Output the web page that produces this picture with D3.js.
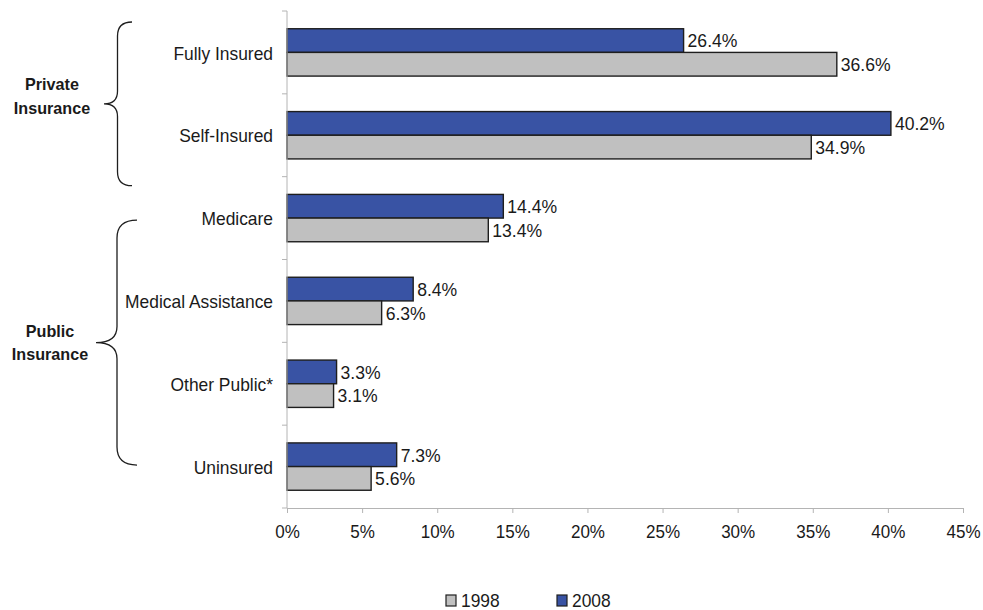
<!DOCTYPE html>
<html>
<head>
<meta charset="utf-8">
<script src="https://cdn.jsdelivr.net/npm/d3@7"></script>
<style>
  html, body { margin: 0; padding: 0; background: #fff; }
  svg { display: block; font-family: "Liberation Sans", Arial, sans-serif; }
</style>
</head>
<body>
<svg id="chart" width="983" height="610"></svg>
<script>
// Share of coverage by insurance type, 1998 vs 2008
const categories = ["Fully Insured", "Self-Insured", "Medicare", "Medical Assistance", "Other Public*", "Uninsured"];
const values1998 = [36.6, 34.9, 13.4, 6.3, 3.1, 5.6];
const values2008 = [26.4, 40.2, 14.4, 8.4, 3.3, 7.3];
const seriesNames = ["2008", "1998"];
const xTicks = [0, 5, 10, 15, 20, 25, 30, 35, 40, 45];
const groups = [
  { label: ["Private", "Insurance"], from: "Fully Insured", to: "Self-Insured" },
  { label: ["Public", "Insurance"], from: "Medicare", to: "Uninsured" }
];

const colors = { "1998": "#c0c0c0", "2008": "#3953a4" };
const textColor = "#1a1a1a";
const axisColor = "#b4b4b4";
const fontSize = 18.5;

const svg = d3.select("#chart");

const x = d3.scaleLinear().domain([0, 45]).range([287, 963]);
const y = d3.scaleBand().domain(categories).range([11, 508]).padding(0);
const ySub = d3.scaleBand().domain(seriesNames).range([0, y.bandwidth()]).paddingOuter(0.75).paddingInner(0);

// Slightly narrow the regular text
function squeeze(sel, k) {
  sel.each(function () {
    const w = this.getComputedTextLength();
    d3.select(this).attr("textLength", w * k).attr("lengthAdjust", "spacingAndGlyphs");
  });
}

const rows = categories.map((c, i) => ({ cat: c, "1998": values1998[i], "2008": values2008[i] }));

// Bars
const g = svg.append("g");
const row = g.selectAll("g.row").data(rows).join("g")
  .attr("class", "row")
  .attr("transform", d => `translate(0,${y(d.cat)})`);

row.selectAll("rect").data(d => seriesNames.map(s => ({ s, v: d[s] }))).join("rect")
  .attr("x", x(0))
  .attr("y", d => ySub(d.s))
  .attr("width", d => x(d.v) - x(0))
  .attr("height", ySub.bandwidth())
  .attr("fill", d => colors[d.s])
  .attr("stroke", "#1e1e1e")
  .attr("stroke-width", 1.4);

const valueLabels = row.selectAll("text.val").data(d => seriesNames.map(s => ({ s, v: d[s] }))).join("text")
  .attr("class", "val")
  .attr("x", d => x(d.v) + 4)
  .attr("y", d => ySub(d.s) + ySub.bandwidth() / 2 + 6.8)
  .attr("font-size", fontSize)
  .attr("fill", textColor)
  .text(d => d.v.toFixed(1) + "%");
squeeze(valueLabels, 0.95);

// Y axis (category boundaries)
const yAxisG = svg.append("g");
yAxisG.append("line")
  .attr("x1", x(0)).attr("x2", x(0))
  .attr("y1", y.range()[0]).attr("y2", y.range()[1])
  .attr("stroke", axisColor).attr("stroke-width", 1);
const bounds = categories.map(c => y(c)).concat([y.range()[1]]);
yAxisG.selectAll("line.tk").data(bounds).join("line")
  .attr("class", "tk")
  .attr("x1", x(0) - 5).attr("x2", x(0))
  .attr("y1", d => d).attr("y2", d => d)
  .attr("stroke", axisColor);

const catLabels = svg.append("g").selectAll("text").data(categories).join("text")
  .attr("x", 273)
  .attr("y", d => y(d) + y.bandwidth() / 2 + 7.2)
  .attr("text-anchor", "end")
  .attr("font-size", fontSize)
  .attr("fill", textColor)
  .text(d => d);
squeeze(catLabels, 0.94);

// X axis
const xAxis = d3.axisBottom(x).tickValues(xTicks).tickSize(5).tickPadding(12).tickFormat(d => d + "%");
const xg = svg.append("g").attr("transform", `translate(0,${y.range()[1]})`).call(xAxis);
xg.select(".domain").attr("stroke", axisColor);
xg.selectAll(".tick line").attr("stroke", axisColor);
xg.selectAll(".tick text")
  .attr("font-size", fontSize)
  .attr("font-family", "Liberation Sans, Arial, sans-serif")
  .attr("fill", textColor);
squeeze(xg.selectAll(".tick text"), 0.92);

// Group braces
const braceSpecs = [
  { top: y("Fully Insured") + 11, bot: y("Self-Insured") + y.bandwidth() + 9, xe: 132, xl: 117.5, xt: 104, r: 14, ly: -13.5, lx: 52 },
  { top: y("Medicare") + y.bandwidth() / 2 + 2, bot: y("Uninsured") + y.bandwidth() / 2 - 1.5, xe: 137, xl: 117, xt: 96, r: 18, ly: -6, lx: 50 }
];
groups.forEach((grp, i) => {
  const b = braceSpecs[i];
  const mid = (b.top + b.bot) / 2;
  const p = d3.path();
  p.moveTo(b.xe, b.top);
  p.quadraticCurveTo(b.xl, b.top, b.xl, b.top + b.r);
  p.lineTo(b.xl, mid - b.r * 0.9);
  p.quadraticCurveTo(b.xl, mid, b.xt, mid);
  p.quadraticCurveTo(b.xl, mid, b.xl, mid + b.r * 0.9);
  p.lineTo(b.xl, b.bot - b.r);
  p.quadraticCurveTo(b.xl, b.bot, b.xe, b.bot);
  svg.append("path").attr("d", p.toString())
    .attr("fill", "none").attr("stroke", "#1e1e1e").attr("stroke-width", 1.3);

  const gl = svg.append("g").selectAll("text").data(grp.label).join("text")
    .attr("x", b.lx)
    .attr("y", (d, j) => mid + b.ly + j * 23.5)
    .attr("text-anchor", "middle")
    .attr("font-size", 17)
    .attr("font-weight", "bold")
    .attr("fill", textColor)
    .text(d => d);
  squeeze(gl, 0.95);
});

// Legend
const legendItems = ["1998", "2008"];
const legend = svg.append("g").selectAll("g").data(legendItems).join("g")
  .attr("transform", (d, i) => `translate(${446 + i * 111},595)`);
legend.append("rect")
  .attr("width", 10).attr("height", 11)
  .attr("fill", d => colors[d])
  .attr("stroke", "#1e1e1e").attr("stroke-width", 1.2);
const legText = legend.append("text")
  .attr("x", 15).attr("y", 11.5)
  .attr("font-size", fontSize)
  .attr("fill", textColor)
  .text(d => d);
squeeze(legText, 0.94);
</script>
</body>
</html>
